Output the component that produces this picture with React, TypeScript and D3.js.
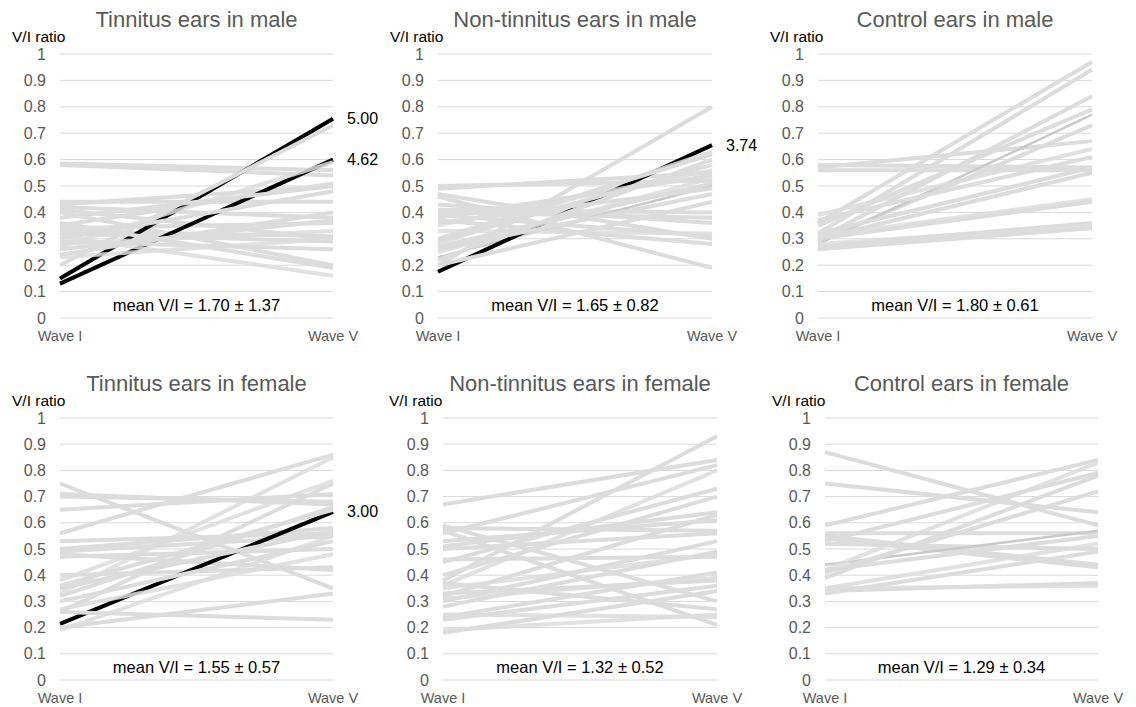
import React from 'react';
import * as d3 from 'd3';

// each row: [Wave I ratio, Wave V ratio] per ear
const tinnitusMale: [number, number][] = [
  [0.58, 0.54], [0.585, 0.56], [0.43, 0.5], [0.42, 0.38], [0.44, 0.44], [0.41, 0.3],
  [0.4, 0.2], [0.35, 0.51], [0.34, 0.36], [0.33, 0.31], [0.32, 0.29], [0.31, 0.16],
  [0.3, 0.48], [0.29, 0.26], [0.27, 0.59], [0.26, 0.37], [0.24, 0.4], [0.23, 0.3],
  [0.2, 0.73], [0.36, 0.19], [0.28, 0.33], [0.38, 0.5],
];
const nonTinnitusMale: [number, number][] = [
  [0.2, 0.8], [0.49, 0.55], [0.5, 0.52], [0.47, 0.3], [0.46, 0.19], [0.43, 0.36],
  [0.41, 0.4], [0.4, 0.38], [0.39, 0.31], [0.38, 0.54], [0.37, 0.28], [0.35, 0.56],
  [0.3, 0.62], [0.29, 0.58], [0.28, 0.63], [0.27, 0.51], [0.26, 0.47], [0.25, 0.53],
  [0.22, 0.6], [0.2, 0.44], [0.33, 0.32], [0.36, 0.49],
];
const controlMale: [number, number][] = [
  [0.58, 0.57], [0.57, 0.67], [0.56, 0.56], [0.36, 0.97], [0.32, 0.94], [0.3, 0.84],
  [0.35, 0.79], [0.29, 0.73], [0.39, 0.64], [0.37, 0.61], [0.3, 0.55], [0.31, 0.45],
  [0.3, 0.44], [0.27, 0.36], [0.28, 0.35], [0.26, 0.34], [0.32, 0.57],
];
const tinnitusFemale: [number, number][] = [
  [0.75, 0.35], [0.71, 0.67], [0.7, 0.68], [0.65, 0.71], [0.56, 0.86], [0.53, 0.56],
  [0.5, 0.58], [0.49, 0.55], [0.48, 0.42], [0.47, 0.5], [0.4, 0.43], [0.38, 0.76],
  [0.36, 0.65], [0.35, 0.57], [0.33, 0.85], [0.32, 0.66], [0.3, 0.53], [0.27, 0.48],
  [0.26, 0.23], [0.2, 0.33], [0.19, 0.55], [0.26, 0.75],
];
const nonTinnitusFemale: [number, number][] = [
  [0.67, 0.84], [0.59, 0.3], [0.58, 0.57], [0.57, 0.21], [0.56, 0.82], [0.53, 0.61],
  [0.51, 0.64], [0.5, 0.56], [0.46, 0.47], [0.45, 0.73], [0.38, 0.93], [0.37, 0.27],
  [0.36, 0.8], [0.33, 0.38], [0.32, 0.63], [0.31, 0.39], [0.3, 0.53], [0.28, 0.49],
  [0.25, 0.24], [0.24, 0.41], [0.23, 0.36], [0.19, 0.25], [0.18, 0.34], [0.4, 0.7],
  [0.35, 0.48],
];
const controlFemale: [number, number][] = [
  [0.87, 0.59], [0.75, 0.64], [0.59, 0.84], [0.56, 0.56], [0.55, 0.44], [0.54, 0.43],
  [0.53, 0.79], [0.52, 0.5], [0.42, 0.83], [0.41, 0.72], [0.39, 0.78], [0.35, 0.52],
  [0.34, 0.37], [0.33, 0.49], [0.35, 0.36], [0.42, 0.55],
];

// darker grey ears
const darkMale: [number, number][] = [[0.23, 0.5]];
const darkControlMale: [number, number][] = [[0.28, 0.77]];
const darkControlFemale: [number, number][] = [[0.44, 0.57]];

// highlighted ears with their V/I value label
const highlightTinnitusMale = [
  { ratio: [0.15, 0.755] as [number, number], label: '5.00' },
  { ratio: [0.13, 0.6] as [number, number], label: '4.62' },
];
const highlightNonTinnitusMale = [{ ratio: [0.175, 0.655] as [number, number], label: '3.74' }];
const highlightTinnitusFemale = [{ ratio: [0.214, 0.642] as [number, number], label: '3.00' }];

const titles = [
  'Tinnitus ears in male', 'Non-tinnitus ears in male', 'Control ears in male',
  'Tinnitus ears in female', 'Non-tinnitus ears in female', 'Control ears in female',
];
const meanLabels = [
  'mean V/I = 1.70 ± 1.37', 'mean V/I = 1.65 ± 0.82', 'mean V/I = 1.80 ± 0.61',
  'mean V/I = 1.55 ± 0.57', 'mean V/I = 1.32 ± 0.52', 'mean V/I = 1.29 ± 0.34',
];
const xCategories = ['Wave I', 'Wave V'];
const yTicks = [0, 0.1, 0.2, 0.3, 0.4, 0.5, 0.6, 0.7, 0.8, 0.9, 1];

const panels = [
  { ears: tinnitusMale, dark: [], hi: highlightTinnitusMale, left: 60, right: 333, top: 54, bottom: 318, yl: 12 },
  { ears: nonTinnitusMale, dark: darkMale, hi: highlightNonTinnitusMale, left: 438, right: 712, top: 54, bottom: 318, yl: 390 },
  { ears: controlMale, dark: darkControlMale, hi: [], left: 818, right: 1092, top: 54, bottom: 318, yl: 770 },
  { ears: tinnitusFemale, dark: [], hi: highlightTinnitusFemale, left: 60, right: 333, top: 418, bottom: 680, yl: 12 },
  { ears: nonTinnitusFemale, dark: [], hi: [], left: 443, right: 717, top: 418, bottom: 680, yl: 389 },
  { ears: controlFemale, dark: darkControlFemale, hi: [], left: 825, right: 1098, top: 418, bottom: 680, yl: 772 },
];

const FONT = '"Liberation Sans", Arial, sans-serif';

const Panel = ({ p, i }) => {
  const x = d3.scalePoint().domain(xCategories).range([p.left, p.right]);
  const y = d3.scaleLinear().domain([0, 1]).range([p.bottom, p.top]);
  const line = d3.line<number>()
    .x((d, k) => x(xCategories[k]))
    .y((d) => y(d));
  const path = (r: [number, number]) => line(r);
  const half = Math.floor(p.ears.length / 2);
  const cx = (p.left + p.right) / 2;

  return (
    <g>
      {yTicks.map((t) => (
        <g key={t}>
          <line x1={p.left} x2={p.right} y1={y(t)} y2={y(t)} stroke="#d9d9d9" strokeWidth={1} />
          <text x={p.left - 14} y={y(t) + 5.5} textAnchor="end" fontSize={16} fill="#595959">
            {d3.format('~g')(t)}
          </text>
        </g>
      ))}
      {p.ears.slice(0, half).map((r, k) => (
        <path key={'a' + k} d={path(r)} fill="none" stroke="#dcdcdc" strokeWidth={4} />
      ))}
      {p.dark.map((r, k) => (
        <path key={'d' + k} d={path(r)} fill="none" stroke="#c9c9c9" strokeWidth={2.5} />
      ))}
      {p.hi.map((h, k) => (
        <g key={'h' + k}>
          <path d={path(h.ratio)} fill="none" stroke="#000" strokeWidth={4} />
          <text x={p.right + 14} y={y(h.ratio[1]) + 5.5} fontSize={16} fill="#000">{h.label}</text>
        </g>
      ))}
      {p.ears.slice(half).map((r, k) => (
        <path key={'b' + k} d={path(r)} fill="none" stroke="#dcdcdc" strokeWidth={4}
          strokeOpacity={k % 3 === 0 ? 0.85 : 1} />
      ))}
      <text x={cx} y={p.top - 27} textAnchor="middle" fontSize={22} fill="#595959">{titles[i]}</text>
      <text x={p.yl} y={p.top - 12} fontSize={15.5} fill="#000">V/I ratio</text>
      <text x={cx} y={p.bottom - 7} textAnchor="middle" fontSize={16.5} fill="#000">{meanLabels[i]}</text>
      {xCategories.map((c) => (
        <text key={c} x={x(c)} y={p.bottom + 23} textAnchor="middle" fontSize={14.5} fill="#595959">{c}</text>
      ))}
    </g>
  );
};

export default function App() {
  return (
    <div style={{ position: 'absolute', left: 0, top: 0 }}>
      <svg width={1136} height={707} style={{ display: 'block', background: '#fff', fontFamily: FONT }}>
        {panels.map((p, i) => <Panel key={i} p={p} i={i} />)}
      </svg>
    </div>
  );
}
